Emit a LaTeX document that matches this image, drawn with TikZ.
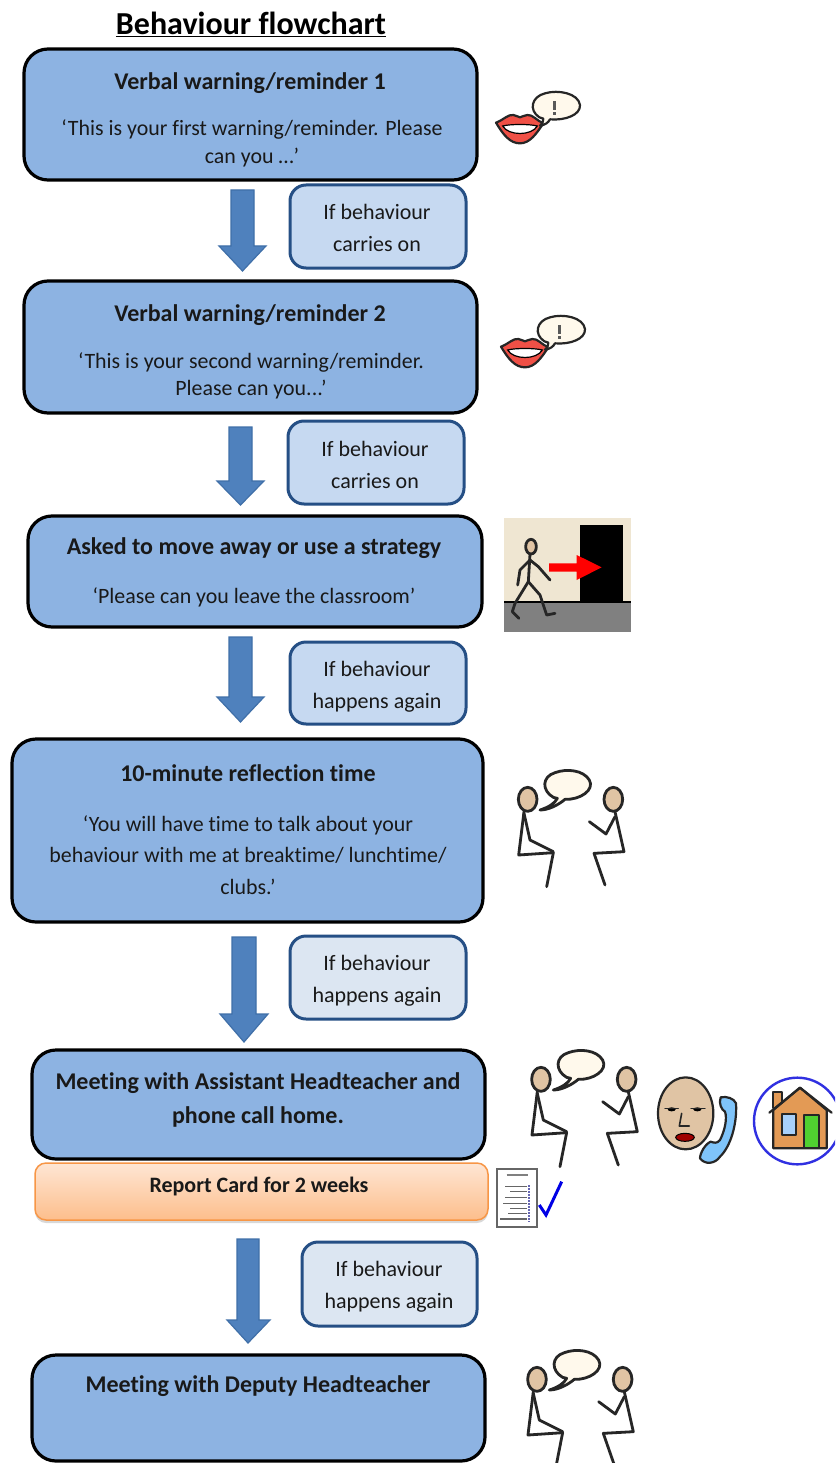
\documentclass[tikz,border=0pt]{standalone}
\usepackage{fontspec}
\setmainfont{Carlito}[Ligatures=NoCommon]
\usetikzlibrary{shadows}
\definecolor{bigfill}{HTML}{8DB3E2}
\definecolor{smallfill}{HTML}{C6D9F1}
\definecolor{palefill}{HTML}{DCE6F2}
\definecolor{smallline}{HTML}{254F85}
\definecolor{arrowfill}{HTML}{4F81BD}
\definecolor{arrowline}{HTML}{3F6FA8}
\definecolor{skin}{HTML}{E0C4A4}
\definecolor{bubble}{HTML}{FFF9EC}
\tikzset{
  bigbox/.style={draw=black,line width=3.2pt,rounded corners=24pt,fill=bigfill,inner sep=0pt},
  smallbox/.style={draw=smallline,line width=3pt,rounded corners=16pt,fill=smallfill,inner sep=0pt},
  palebox/.style={smallbox,fill=palefill},
  orangebox/.style={draw={rgb,255:red,247;green,150;blue,70},line width=1.5pt,rounded corners=11pt,
    top color={rgb,255:red,254;green,230;blue,212},bottom color={rgb,255:red,253;green,190;blue,140},
    drop shadow={shadow xshift=0pt,shadow yshift=-3pt,opacity=.3}},
  headtext/.style={font=\fontsize{24}{28}\selectfont\bfseries,align=center,inner sep=0pt,text=black!90},
  quotetext/.style={font=\fontsize{21.9}{28}\selectfont,align=center,inner sep=0pt,text=black!90},
  sidetext/.style={font=\fontsize{22}{32}\selectfont,align=center,inner sep=0pt,text=black!90},
  blockarrow/.style={draw=arrowline,line width=1.2pt,fill=arrowfill,line join=miter},
  icon/.style={line width=2.8pt,line cap=round,line join=round,draw=black!85},
  talk/.pic={
    \draw[icon,fill=skin] (83,118) ellipse [x radius=28,y radius=36];
    \draw[icon,fill=skin] (340,118) ellipse [x radius=28,y radius=36];
    \draw[icon] (72,155) -- (56,285) -- (160,278) -- (140,380);
    \draw[icon] (72,160) -- (90,240) -- (160,275);
    \draw[icon] (345,155) -- (372,275) -- (282,280) -- (315,375);
    \draw[icon] (345,170) -- (318,222) -- (268,185);
    \draw[icon,fill=bubble] (160,112) .. controls (125,92) and (125,50) .. (165,38)
       .. controls (200,25) and (250,30) .. (268,60)
       .. controls (285,90) and (240,120) .. (195,118)
       .. controls (175,135) and (145,150) .. (120,150)
       .. controls (145,142) and (165,130) .. (172,115) -- cycle;
  },
  lips/.pic={
    \draw[icon,line width=2.2pt,fill={rgb,255:red,240;green,80;blue,70}] (48,128)
       .. controls (70,120) and (85,102) .. (100,105) .. controls (110,106) and (115,112) .. (120,112)
       .. controls (125,112) and (132,105) .. (142,105) .. controls (158,103) and (170,122) .. (190,130)
       .. controls (170,160) and (150,190) .. (120,190) .. controls (90,190) and (70,165) .. (48,128) -- cycle;
    \draw[line width=1.2pt,fill=white] (68,138) .. controls (90,132) and (150,132) .. (172,138)
       .. controls (155,168) and (85,168) .. (68,138) -- cycle;
    \draw[icon,line width=2.2pt,fill=bubble] (178,112) .. controls (145,90) and (155,50) .. (195,40)
       .. controls (235,28) and (295,40) .. (300,75)
       .. controls (302,105) and (255,122) .. (210,118)
       .. controls (205,128) and (195,135) .. (180,137)
       .. controls (188,130) and (190,122) .. (190,116) -- cycle;
    \fill[black!65] (220,62) rectangle (228,90);
    \fill[black!65] (220,95) rectangle (228,104);
  },
  exiticon/.pic={
    \fill[fill={rgb,255:red,239;green,230;blue,210}] (28,24) rectangle (407,275);
    \fill[fill=black!50] (28,275) rectangle (407,365);
    \draw[black,line width=2pt] (28,275) -- (407,275);
    \fill[black] (255,45) rectangle (385,278);
    \fill[red] (162,160) -- (245,160) -- (245,135) -- (320,172) -- (245,210) -- (245,185) -- (162,185) -- cycle;
    \draw[icon,fill=skin] (108,110) ellipse [x radius=16,y radius=22];
    \draw[icon] (105,132) -- (100,215) -- (60,280) -- (52,305) -- (72,325);
    \draw[icon] (100,215) -- (135,255) -- (155,315) -- (180,310);
    \draw[icon] (105,150) -- (75,180) -- (68,225);
    \draw[icon] (105,150) -- (130,170) -- (165,210);
  },
  phoneicon/.pic={
    \draw[icon,line width=2.2pt,fill=skin] (587,220) ellipse [x radius=83,y radius=108];
    \fill[black] (545,208) ellipse [x radius=12,y radius=6];
    \fill[black] (622,208) ellipse [x radius=12,y radius=6];
    \draw[icon,line width=1.2pt] (525,205) -- (565,205);
    \draw[icon,line width=1.2pt] (603,205) -- (645,205);
    \draw[icon,line width=1.6pt] (575,220) -- (568,258) -- (598,258);
    \draw[line width=1pt,fill={rgb,255:red,160;green,0;blue,0}] (585,292) ellipse [x radius=28,y radius=12];
    \draw[icon,line width=2.2pt,fill={rgb,255:red,127;green,196;blue,250}] (692,172)
       .. controls (710,168) and (732,175) .. (738,190)
       .. controls (742,250) and (722,320) .. (690,350)
       .. controls (675,372) and (645,375) .. (630,355)
       .. controls (630,340) and (645,312) .. (662,305)
       .. controls (672,308) and (680,312) .. (690,300)
       .. controls (705,270) and (712,235) .. (705,215)
       .. controls (695,210) and (685,190) .. (692,172) -- cycle;
  },
  houseicon/.pic={
    \draw[line width=2.4pt,draw={rgb,255:red,48;green,48;blue,225},fill=white] (922,243) circle [radius=130];
    \draw[icon,line width=2.2pt,fill={rgb,255:red,227;green,154;blue,85}] (850,155) rectangle (875,205);
    \draw[icon,line width=2.2pt,fill={rgb,255:red,227;green,154;blue,85}] (850,325) -- (850,210) -- (930,143) -- (1010,210) -- (1010,325) -- cycle;
    \draw[icon,line width=2.2pt] (838,218) -- (930,143) -- (1025,218);
    \draw[icon,line width=2pt,fill={rgb,255:red,168;green,208;blue,250}] (875,222) rectangle (917,285);
    \draw[icon,line width=2pt,fill={rgb,255:red,80;green,208;blue,48}] (943,225) rectangle (987,323);
  },
  reporticon/.pic={
    \draw[black!60,line width=1.8pt,fill=white] (22,387) rectangle (142,562);
    \draw[black!50,line width=1.2pt] (50,405) -- (115,405);
    \foreach \yy/\xx in {440/45,455/60,472/45,490/40,505/60,520/55,537/30}
      \draw[black!60,line width=1.2pt] (\xx,\yy) -- (112,\yy);
    \draw[black!50!blue!60,line width=2pt,densely dotted] (117,435) -- (117,545);
    \draw[blue!90!black,line width=3pt] (148,495) -- (168,525) -- (215,425);
  }
}
\newcommand{\blockarr}[7]{% xL xR ytop yhead tip headL headR
  \draw[blockarrow] (#1,#3) -- (#2,#3) -- (#2,#4) -- (#7,#4) -- ({(#1+#2)/2},#5) -- (#6,#4) -- (#1,#4) -- cycle;}
\begin{document}
\begin{tikzpicture}[x=1pt,y=-1pt]
\clip (0,0) rectangle (835,1463);
\useasboundingbox (0,0) rectangle (835,1463);
\fill[white] (0,0) rectangle (835,1463);

\node[font=\fontsize{32}{34}\selectfont\bfseries,inner sep=0pt] (title) at (251,24) {\underline{Behaviour flowchart}};

% main boxes
\draw[bigbox] (24,49) rectangle (477,180);
\draw[bigbox] (24,281) rectangle (477,413);
\draw[bigbox] (28,516) rectangle (482,627);
\draw[bigbox] (12,739) rectangle (483,922);
\draw[bigbox] (32,1050) rectangle (485,1159);
\draw[bigbox] (32,1355) rectangle (485,1461);

\node[headtext] (h1) at (250,83) {Verbal warning/reminder 1};
\node[quotetext] (q1) at (252,143) {‘This is your first warning/reminder. Please\\can you …’};
\node[headtext] (h2) at (250,315) {Verbal warning/reminder 2};
\node[quotetext,font=\fontsize{21.9}{27}\selectfont] (q2) at (251,376) {‘This is your second warning/reminder.\\Please can you...’};
\node[headtext] (h3) at (254,548) {Asked to move away or use a strategy};
\node[quotetext] (q3) at (254,597) {‘Please can you leave the classroom’};
\node[headtext] (h4) at (248,773) {10-minute reflection time};
\node[quotetext,font=\fontsize{21.9}{31.5}\selectfont] (q4) at (248,855) {‘You will have time to talk about your\\behaviour with me at breaktime/ lunchtime/\\clubs.’};
\node[headtext,font=\fontsize{24}{34}\selectfont\bfseries] (h5) at (258,1100) {Meeting with Assistant Headteacher and\\phone call home.};
\node[headtext] (h6) at (258,1386) {Meeting with Deputy Headteacher};

% report card
\draw[orangebox] (35,1163) rectangle (488,1220);
\node[font=\fontsize{22}{24}\selectfont\bfseries,inner sep=0pt,text=black!90] (rc) at (259,1186) {Report Card for 2 weeks};

% side boxes
\draw[smallbox] (290,185) rectangle (466,268);
\node[sidetext] (s1) at (377,228) {If behaviour\\carries on};
\draw[smallbox] (288,421) rectangle (464,504);
\node[sidetext] (s2) at (375,465) {If behaviour\\carries on};
\draw[smallbox] (290,642) rectangle (466,724);
\node[sidetext] (s3) at (377,687) {If behaviour\\happens again};
\draw[palebox] (290,936) rectangle (466,1019);
\node[sidetext] (s4) at (377,981) {If behaviour\\happens again};
\draw[palebox] (302,1242) rectangle (477,1326);
\node[sidetext] (s5) at (389,1287) {If behaviour\\happens again};

% block arrows
\blockarr{231}{254}{190}{246}{271}{219}{266}
\blockarr{229}{252}{427}{481}{505}{217}{264}
\blockarr{229}{252}{637}{697}{722}{217}{264}
\blockarr{232}{256}{937}{1014}{1042}{220}{268}
\blockarr{237}{259}{1239}{1320}{1343}{227}{270}

% icons
\pic[x=1pt,y=-1pt,scale=1/3] at (480,80) {lips};
\pic[x=1pt,y=-1pt,scale=1/3] at (485,304) {lips};
\pic[x=1pt,y=-1pt,scale=1/3] at (495,510) {exiticon};
\pic[x=1pt,y=-1pt,scale=1/3] at (500,760) {talk};
\pic[x=1pt,y=-1pt,scale=1/3] at (513.3,1040) {talk};
\pic[x=1pt,y=-1pt,scale=1/3] at (490,1040) {phoneicon};
\pic[x=1pt,y=-1pt,scale=1/3] at (490,1040) {houseicon};
\pic[x=1pt,y=-1pt,scale=1/3] at (490,1040) {reporticon};
\pic[x=1pt,y=-1pt,scale=1/3] at (509.3,1340) {talk};
\end{tikzpicture}
\end{document}
